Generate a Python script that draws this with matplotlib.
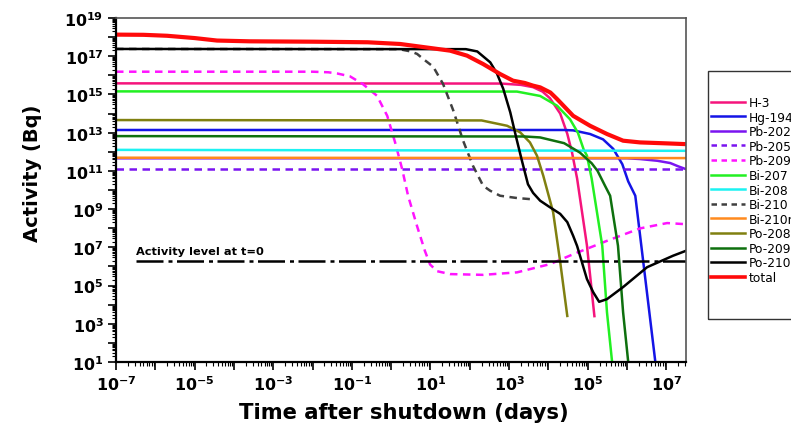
import numpy as np
import matplotlib
matplotlib.use('Agg')
import matplotlib.pyplot as plt
from matplotlib.patches import Rectangle
from matplotlib.lines import Line2D
from matplotlib.ticker import LogLocator, NullFormatter

plt.rcParams['font.family'] = ['DejaVu Sans']
plt.rcParams['mathtext.fontset'] = 'custom'
plt.rcParams['mathtext.rm'] = 'DejaVu Sans:bold'
plt.rcParams['mathtext.it'] = 'DejaVu Sans:bold'
plt.rcParams['mathtext.bf'] = 'DejaVu Sans:bold'

# ---------------- data (log10 of time in days, log10 of activity in Bq) ----------------
h3_logt = [-7, 2.8, 3.3, 3.61, 3.85, 4.04, 4.3, 4.48, 4.6, 4.73, 4.98, 5.17]
h3_logA = [15.58, 15.57, 15.5, 15.38, 15.15, 14.8, 14.0, 12.94, 11.97, 10.6, 7.1, 3.4]

hg194_logt = [-7, 4.4, 4.63, 5.06, 5.39, 5.65, 5.88, 6.03, 6.21, 6.72]
hg194_logA = [13.14, 13.14, 13.12, 12.93, 12.65, 12.15, 11.35, 10.45, 9.7, 1.0]

pb202_logt = [-7, 6.0, 6.33, 6.77, 7.10, 7.30, 7.5]
pb202_logA = [11.66, 11.66, 11.62, 11.53, 11.41, 11.24, 11.09]

pb205_logt = [-7, 7.5]
pb205_logA = [11.09, 11.09]

pb209_logt = [-7, -2.0, -1.6, -1.38, -1.05, -0.72, -0.36, -0.10, 0.10, 0.28, 0.43, 0.66, 0.86,
              0.99, 1.17, 1.5, 2.34, 3.2, 4.04, 4.63, 5.49, 6.33, 7.02, 7.5]
pb209_logA = [16.19, 16.19, 16.16, 16.1, 15.95, 15.54, 14.93, 13.88, 12.49, 11.09, 9.70, 8.1, 6.8,
              6.1, 5.75, 5.6, 5.56, 5.69, 6.12, 6.64, 7.34, 7.99, 8.27, 8.21]

bi207_logt = [-7, 3.2, 3.79, 4.22, 4.55, 4.75, 4.90, 4.98, 5.1, 5.37, 5.49, 5.62]
bi207_logA = [15.16, 15.15, 14.92, 14.41, 13.7, 13.0, 12.1, 11.8, 10.6, 7.08, 3.6, 1.0]

bi208_logt = [-7, 7.5]
bi208_logA = [12.1, 12.05]

bi210_logt = [-7, 0.2, 0.5, 0.66, 0.85, 1.07, 1.32, 1.58, 1.83, 2.08, 2.34, 2.52, 2.77, 3.2, 3.55]
bi210_logA = [17.38, 17.37, 17.25, 17.12, 16.8, 16.45, 15.55, 14.16, 12.58, 11.27, 10.22, 9.96, 9.70, 9.58, 9.52]

bi210m_logt = [-7, 7.5]
bi210m_logA = [11.69, 11.67]

po208_logt = [-7, 2.3, 2.95, 3.28, 3.53, 3.71, 3.87, 4.12, 4.30, 4.48]
po208_logA = [13.66, 13.64, 13.36, 13.02, 12.49, 11.79, 10.74, 8.84, 6.23, 3.41]

po209_logt = [-7, 3.4, 3.79, 4.4, 4.8, 5.1, 5.25, 5.44, 5.57, 5.77, 5.90, 6.03]
po209_logA = [12.82, 12.8, 12.75, 12.45, 11.96, 11.4, 11.0, 10.22, 9.7, 7.08, 3.6, 1.0]

po210_logt = [-7, 1.9, 2.19, 2.52, 2.69, 2.85, 3.03, 3.18, 3.33, 3.48, 3.61, 3.79, 4.0, 4.15,
              4.3, 4.48, 4.63, 4.73, 4.88, 4.98, 5.14, 5.29, 5.49, 5.9, 6.51, 7.17, 7.5]
po210_logA = [17.38, 17.37, 17.25, 16.68, 16.1, 15.3, 14.06, 12.75, 11.5, 10.3, 9.85, 9.44, 9.15, 8.95,
              8.75, 8.32, 7.6, 7.07, 6.03, 5.34, 4.65, 4.15, 4.29, 4.92, 5.96, 6.56, 6.82]

total_logt = [-7, -6.3, -5.7, -5.0, -4.43, -3.6, -2.0, -0.6, 0.23, 1.07, 1.5, 1.93, 2.34, 2.77, 3.1,
              3.4, 3.61, 3.79, 4.05, 4.22, 4.63, 5.06, 5.49, 5.9, 6.33, 7.0, 7.5]
total_logA = [18.13, 18.12, 18.07, 17.95, 17.82, 17.78, 17.76, 17.73, 17.64, 17.41, 17.29, 17.03, 16.59,
              16.07, 15.72, 15.6, 15.46, 15.37, 15.1, 14.76, 13.88, 13.36, 12.93, 12.58, 12.49, 12.44, 12.4]

activity_t0 = 2.0e6
activity_t0_label = 'Activity level at t=0'

labels = ['H-3', 'Hg-194', 'Pb-202', 'Pb-205', 'Pb-209', 'Bi-207', 'Bi-208', 'Bi-210',
          'Bi-210m', 'Po-208', 'Po-209', 'Po-210', 'total']
series_t = [h3_logt, hg194_logt, pb202_logt, pb205_logt, pb209_logt, bi207_logt, bi208_logt,
            bi210_logt, bi210m_logt, po208_logt, po209_logt, po210_logt, total_logt]
series_a = [h3_logA, hg194_logA, pb202_logA, pb205_logA, pb209_logA, bi207_logA, bi208_logA,
            bi210_logA, bi210m_logA, po208_logA, po209_logA, po210_logA, total_logA]

x_label_exps = [-7, -5, -3, -1, 1, 3, 5, 7]
y_label_exps = [1, 3, 5, 7, 9, 11, 13, 15, 17, 19]

# ---------------- styles ----------------
colors = ['#F5147C', '#1414E6', '#7A14F0', '#7A14F0', '#FF14FF', '#22F022', '#1CF2F2', '#404040',
          '#FF8A1E', '#808010', '#0E700E', '#000000', '#FF0A0A']
dashed = [False, False, False, True, True, False, False, True, False, False, False, False, False]
widths = [1.8] * 12 + [3.0]

fig = plt.figure(figsize=(7.91, 4.27), dpi=100)
ax = fig.add_axes([116 / 791, 1 - 363 / 427, 570 / 791, 344 / 427])

for lt, la, c, d, w in zip(series_t, series_a, colors, dashed, widths):
    t = 10.0 ** np.asarray(lt)
    a = 10.0 ** np.asarray(la)
    if d:
        ax.plot(t, a, color=c, lw=w, dashes=(3.0, 2.2), solid_capstyle='butt')
    else:
        ax.plot(t, a, color=c, lw=w, solid_joinstyle='round')

xmin, xmax = 1e-7, 10 ** 7.5
ax.plot([10 ** -6.5, xmax], [activity_t0, activity_t0], color='black', lw=1.8,
        dashes=(10.8, 2.0, 1.6, 1.8))
ax.text(10 ** -6.5, activity_t0 * 10 ** 0.53, activity_t0_label, fontsize=8.2,
        fontweight='bold', ha='left', va='center')

ax.set_xscale('log')
ax.set_yscale('log')
ax.set_xlim(xmin, xmax)
ax.set_ylim(1e1, 1e19)

xt = [10.0 ** k for k in range(-7, 8)]
ax.set_xticks(xt)
ax.set_xticklabels([r'$\mathbf{10^{%d}}$' % k if k in x_label_exps else '' for k in range(-7, 8)])
yt = [10.0 ** k for k in range(1, 20)]
ax.set_yticks(yt)
ax.set_yticklabels([r'$\mathbf{10^{%d}}$' % k if k in y_label_exps else '' for k in range(1, 20)])
ax.xaxis.set_minor_locator(LogLocator(base=10, subs=np.arange(2, 10), numticks=200))
ax.yaxis.set_minor_locator(LogLocator(base=10, subs=np.arange(2, 10), numticks=200))
ax.xaxis.set_minor_formatter(NullFormatter())
ax.yaxis.set_minor_formatter(NullFormatter())
ax.tick_params(which='major', direction='out', length=6, width=1.2, labelsize=11.4, pad=3)
ax.tick_params(which='minor', direction='out', length=3, width=0.8)
ax.tick_params(top=False, right=False, which='both')

for s in ['left', 'bottom']:
    ax.spines[s].set_linewidth(1.6)
    ax.spines[s].set_color('black')
for s in ['top', 'right']:
    ax.spines[s].set_linewidth(1.2)
    ax.spines[s].set_color('#555555')

fig.text(404 / 791, 1 - 413 / 427, 'Time after shutdown (days)', fontsize=15.2,
         fontweight='bold', ha='center', va='center')
fig.text(32 / 791, 1 - 173 / 427, 'Activity (Bq)', fontsize=14, fontweight='bold',
         ha='center', va='center', rotation=90)

# legend box (extends past the figure edge like the reference)
fig.add_artist(Rectangle((708 / 791, 1 - 320 / 427), 0.2, 248 / 427, transform=fig.transFigure,
                         fill=False, edgecolor='#333333', lw=1.0))
leg_handles = [Line2D([0], [0], color=c, lw=w if w < 3 else 2.6,
                      dashes=(2.2, 1.8) if d else (None, None)) for c, d, w in zip(colors, dashed, widths)]
fig.legend(leg_handles, labels, loc='upper left', bbox_to_anchor=(711 / 791, 1 - 97 / 427),
           frameon=False, fontsize=8.8, handlelength=2.8, handletextpad=0.3,
           labelspacing=0.13, borderpad=0, borderaxespad=0)

fig.savefig('out.png', dpi=100)
